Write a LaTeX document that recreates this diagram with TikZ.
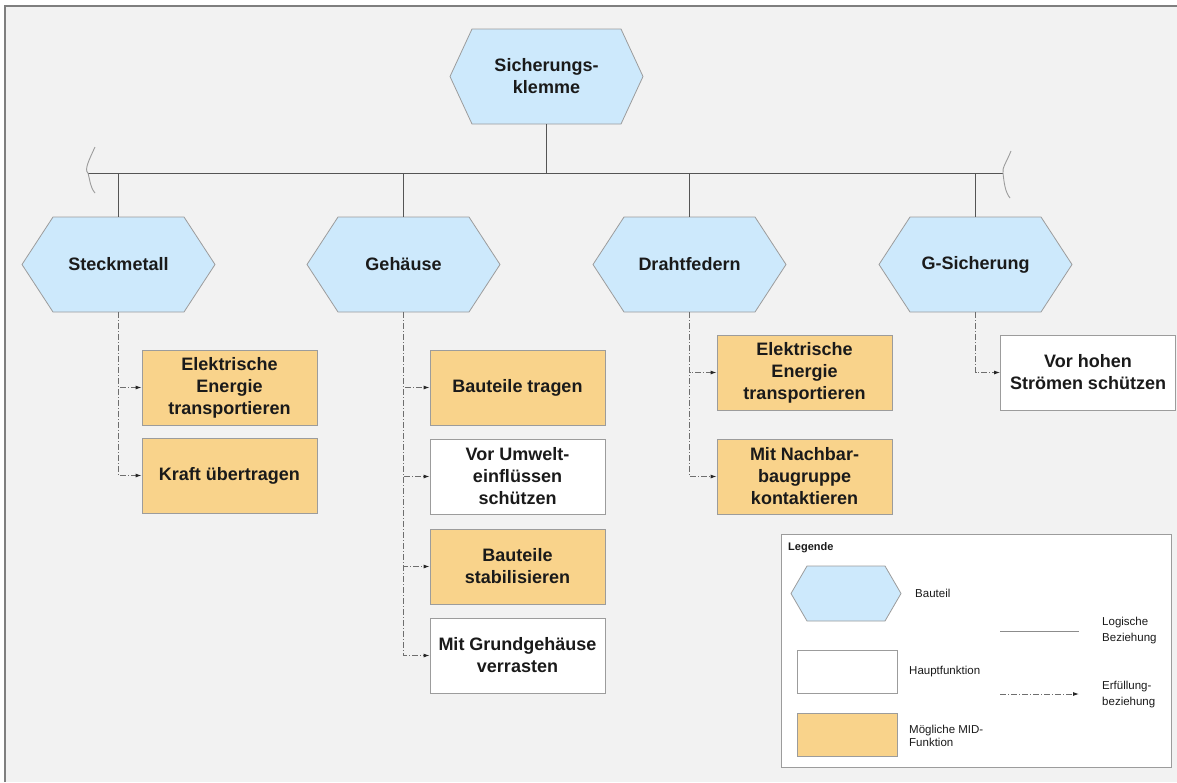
\documentclass[tikz,border=0pt]{standalone}
\usepackage{fontspec}
\setmainfont{Liberation Sans}
\usetikzlibrary{arrows.meta}

\definecolor{bgc}{HTML}{F2F2F2}
\definecolor{framecol}{HTML}{7F7F7F}
\definecolor{hexfill}{HTML}{CDE9FC}
\definecolor{midfill}{HTML}{F9D38B}
\definecolor{edgegray}{HTML}{9C9C9C}
\definecolor{linegray}{HTML}{555555}
\definecolor{dashgray}{HTML}{6E6E6E}
\definecolor{txt}{HTML}{1A1A1A}

\tikzset{
  bauteil/.style={inner sep=0pt, text=txt, align=center,
    font=\fontsize{18}{22}\selectfont\bfseries},
  hexshape/.style={fill=hexfill, draw=edgegray, line width=0.8pt, line join=miter},
  funcbox/.style={draw=edgegray, line width=0.9pt, fill=white,
    minimum width=175pt, minimum height=75pt, inner sep=0pt, text=txt,
    align=center, font=\fontsize{18}{22}\selectfont\bfseries},
  midbox/.style={funcbox, fill=midfill},
  logic/.style={draw=linegray, line width=1pt},
  wave/.style={draw=edgegray, line width=0.9pt},
  fulfil/.style={draw=dashgray, line width=0.9pt,
    dash pattern=on 6pt off 2pt on 1pt off 2pt,
    -{Latex[length=6pt,width=4pt,color=black!85]}},
  legtext/.style={anchor=west, inner sep=0pt, align=left, text=txt,
    font=\fontsize{11.5}{16}\selectfont},
}

% hexagon "Bauteil": name, centre, tip inset, width, height, label
\newcommand{\hexnode}[6]{%
  \begin{scope}[shift={(#2)}]
    \path[hexshape] (-#4/2,0) -- (-#4/2+#3,-#5/2) -- (#4/2-#3,-#5/2)
      -- (#4/2,0) -- (#4/2-#3,#5/2) -- (-#4/2+#3,#5/2) -- cycle;
  \end{scope}
  \node[bauteil, minimum width=#4pt, minimum height=#5pt] (#1) at (#2) {#6};
}

\begin{document}
\begin{tikzpicture}[x=1pt, y=-1pt]
\useasboundingbox (0,0) rectangle (1177,782);
\fill[bgc] (5,6) rectangle (1177,782);
\draw[framecol, line width=1.2pt] (5,782) -- (5,6) -- (1177,6);

% components
\hexnode{klemme}{546.5,76.5}{22}{193}{95}{Sicherungs-\\klemme}
\hexnode{steck}{118.5,264.5}{31}{193}{95}{Steckmetall}
\hexnode{gehaeuse}{403.5,264.5}{31}{193}{95}{Gehäuse}
\hexnode{draht}{689.5,264.5}{31}{193}{95}{Drahtfedern}
\hexnode{gsich}{975.5,264.5}{31}{193}{95}{G-Sicherung}

% logical structure
\coordinate (busL) at (88,173);
\coordinate (busR) at (1003,173);
\draw[logic] (busL) -- (busR);
\draw[logic] (klemme.south) -- (klemme.south |- busL);
\foreach \n in {steck,gehaeuse,draht,gsich}
  \draw[logic] (\n.north) -- (\n.north |- busL);
\draw[wave] (95,147) .. controls (89,160) and (84,170) .. (busL)
  .. controls (90,180) and (90,187) .. (95,193);
\draw[wave] (1011,151) .. controls (1006,163) and (1002,168) .. (busR)
  .. controls (1004,182) and (1005,192) .. (1010,198);

% functions: Steckmetall
\node[midbox] (s1) at (229.5,387.5) {Elektrische\\Energie\\transportieren};
\node[midbox] (s2) at (229.5,475.5) {Kraft übertragen};
% functions: Gehäuse
\node[midbox]  (g1) at (517.5,387.5) {Bauteile tragen};
\node[funcbox] (g2) at (517.5,476.5) {Vor Umwelt-\\einflüssen\\schützen};
\node[midbox]  (g3) at (517.5,566.5) {Bauteile\\stabilisieren};
\node[funcbox] (g4) at (517.5,655.5) {Mit Grundgehäuse\\verrasten};
% functions: Drahtfedern
\node[midbox] (d1) at (804.5,372.5) {Elektrische\\Energie\\transportieren};
\node[midbox] (d2) at (804.5,476.5) {Mit Nachbar-\\baugruppe\\kontaktieren};
% functions: G-Sicherung
\node[funcbox] (f1) at (1088,372.5) {Vor hohen\\Strömen schützen};

% fulfilment relations
\foreach \b in {s1,s2} \draw[fulfil] (steck.south) |- (\b.west);
\foreach \b in {g1,g2,g3,g4} \draw[fulfil] (gehaeuse.south) |- (\b.west);
\foreach \b in {d1,d2} \draw[fulfil] (draht.south) |- (\b.west);
\draw[fulfil] (gsich.south) |- (f1.west);

% legend
\node[draw=edgegray, line width=0.9pt, fill=white, minimum width=390pt,
  minimum height=233pt, inner sep=0pt] (legend) at (976,650.5) {};
\node[anchor=west, inner sep=0pt, text=txt,
  font=\fontsize{11}{13}\selectfont\bfseries] (legtitle) at (788,548) {Legende};
\hexnode{leghex}{846,593.5}{16}{110}{55}{}
\node[legtext] (legbauteil) at (915,593) {Bauteil};
\node[funcbox, minimum width=100pt, minimum height=43pt] (legmain) at (847,671.5) {};
\node[legtext] (legmaintxt) at (909,672) {Hauptfunktion};
\node[midbox, minimum width=100pt, minimum height=43pt] (legmid) at (847,734.5) {};
\node[legtext, font=\fontsize{11.5}{13.5}\selectfont] (legmidtxt) at (909,736) {Mögliche MID-\\Funktion};
\coordinate (la) at (1000,631);
\coordinate (lb) at (1079,631);
\draw[draw=edgegray!90!black, line width=0.9pt] (la) -- (lb);
\node[legtext] (legltxt) at (1102,631) {Logische\\Beziehung};
\coordinate (fa) at (1000,694);
\coordinate (fb) at (1079,694);
\draw[fulfil] (fa) -- (fb);
\node[legtext] (legftxt) at (1102,695) {Erfüllung-\\beziehung};
\end{tikzpicture}
\end{document}
